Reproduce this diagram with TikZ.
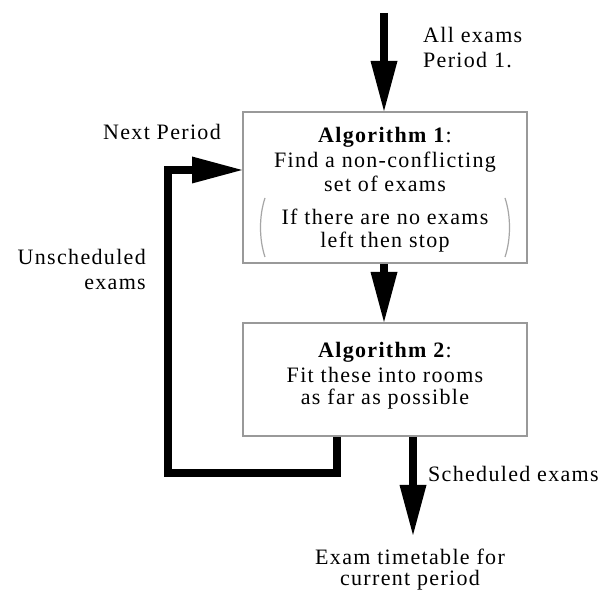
\documentclass[tikz,border=0pt]{standalone}
\usepackage{fontspec}
\setmainfont[LetterSpace=6]{Liberation Serif}
\usetikzlibrary{arrows.meta}
\tikzset{
  box/.style={draw=black!40, line width=2pt, fill=white, minimum width=284pt, inner sep=0pt},
  lbl/.style={inner sep=0pt, font=\fontsize{22pt}{25pt}\selectfont},
  fat/.style={line width=8pt, line join=miter, line cap=butt},
  bighead/.style={-{Triangle[length=50pt,width=27pt,line width=0pt]}},
  paren/.style={draw=black!35, line width=1.2pt}
}
\begin{document}
\begin{tikzpicture}[x=1pt,y=1pt]
\useasboundingbox (0,0) rectangle (603,591);
% boxes
\node[box, minimum height=151pt] (b1) at (385,403.5) {};
\node[box, minimum height=113pt] (b2) at (385,211.5) {};
% box 1 text
\node[lbl, anchor=base] (t11) at (385,448) {\textbf{Algorithm 1}:};
\node[lbl, anchor=base] (t12) at (385,423) {Find a non-conflicting};
\node[lbl, anchor=base] (t13) at (385,399) {set of exams};
\node[lbl, anchor=base] (t14) at (385,366) {If there are no exams};
\node[lbl, anchor=base] (t15) at (385,343) {left then stop};
\draw[paren] (265,393) .. controls (259,375) and (259,352) .. (265,334);
\draw[paren] (505,393) .. controls (511,375) and (511,352) .. (505,334);
% box 2 text
\node[lbl, anchor=base] (t21) at (385,233) {\textbf{Algorithm 2}:};
\node[lbl, anchor=base] (t22) at (385,208) {Fit these into rooms};
\node[lbl, anchor=base] (t23) at (385,186) {as far as possible};
% labels
\node[lbl, anchor=base west] (all) at (423,548) {All exams};
\node[lbl, anchor=base west] (per) at (423,523) {Period 1.};
\node[lbl, anchor=base west] (next) at (103,451) {Next Period};
\node[lbl, anchor=base east] (uns) at (146,326) {Unscheduled};
\node[lbl, anchor=base east] (unx) at (146,301) {exams};
\node[lbl, anchor=base west] (sch) at (428,109) {Scheduled exams};
\node[lbl, anchor=south, align=center, font=\fontsize{22pt}{21pt}\selectfont] (tt) at (410,0.5) {Exam timetable for\\current period};
% connectors
\coordinate (start) at (384,578);
\coordinate (endpt) at (413,56);
\coordinate (l1) at (337,118);
\coordinate (l2) at (168,118);
\coordinate (l3) at (168,421);
\draw[fat, bighead] (start) -- (start |- b1.north);
\draw[fat, bighead] (b1.south -| start) -- (b2.north -| start);
\draw[fat, bighead] (b2.south -| endpt) -- (endpt);
\draw[fat, bighead] (b2.south -| l1) -- (l1) -- (l2) -- (l3) -- (l3 -| b1.west);
\end{tikzpicture}
\end{document}
